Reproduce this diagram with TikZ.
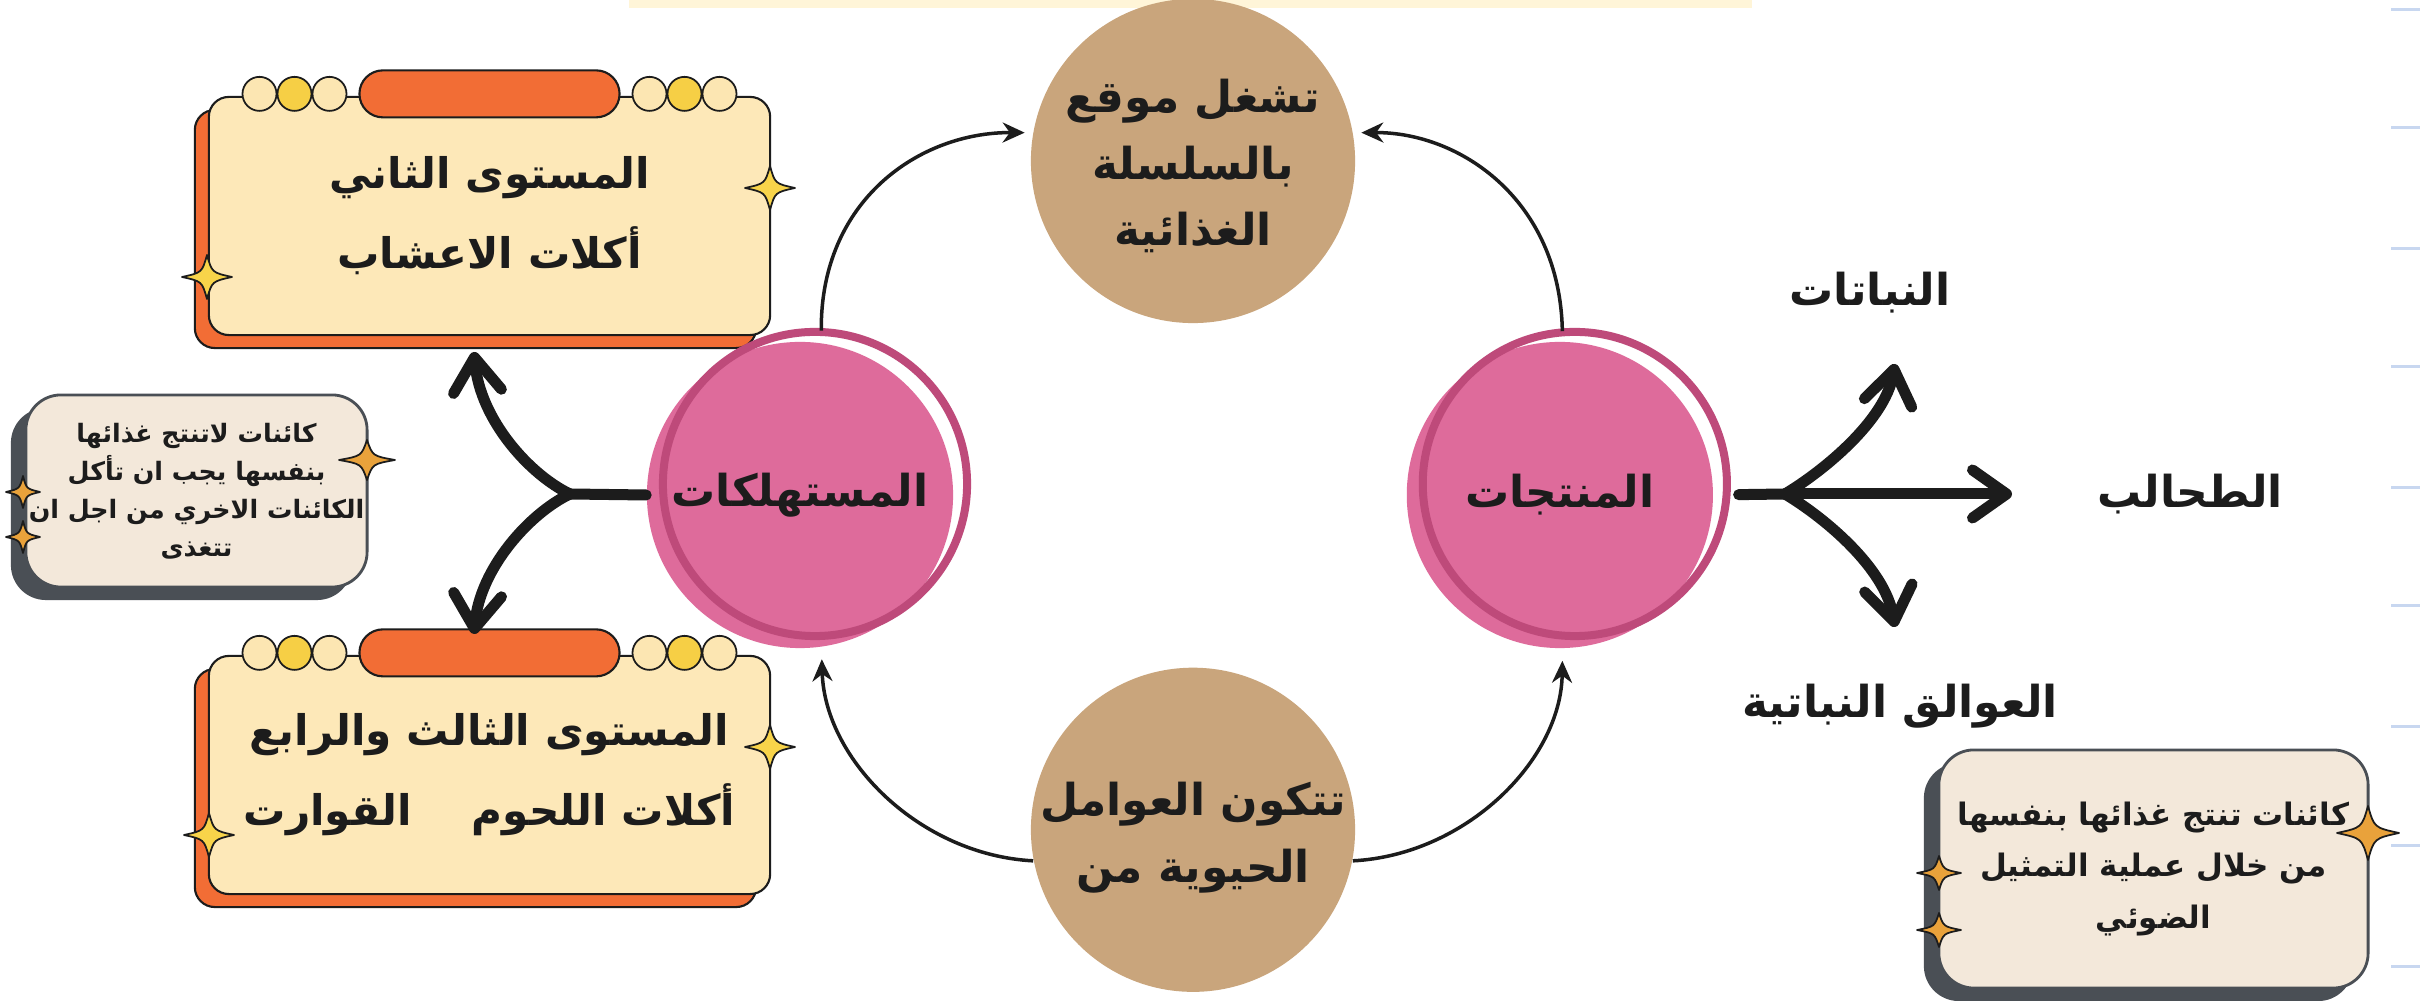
\documentclass[tikz,border=0pt]{standalone}
\usepackage{fontspec}
\usetikzlibrary{arrows.meta,positioning,shadows}
\newfontfamily\arabicfont[Script=Arabic]{DejaVu Sans}
\TeXXeTstate=1

\definecolor{ink}{HTML}{1C1C1C}
\definecolor{cream}{HTML}{FDE8B8}
\definecolor{tabor}{HTML}{F26D35}
\definecolor{sunY}{HTML}{F6CF45}
\definecolor{beadC}{HTML}{FCE6B2}
\definecolor{sparkY}{HTML}{F8D44A}
\definecolor{sparkO}{HTML}{E9A23B}
\definecolor{noteF}{HTML}{F3E8DA}
\definecolor{noteS}{HTML}{4A4F55}
\definecolor{pinkF}{HTML}{DE6B9B}
\definecolor{pinkR}{HTML}{BE4A7A}
\definecolor{tanF}{HTML}{C9A57C}
\definecolor{blueL}{HTML}{C8D7F0}
\definecolor{barY}{HTML}{FFF5D8}

\tikzset{
  x=0.01cm, y=-0.01cm,
  ar/.style={text=ink, align=center},
  levelbox/.style={ar, draw=ink, line width=0.6pt, fill=cream, rounded corners=0.2cm,
    minimum width=5.61cm, minimum height=2.38cm, inner sep=0pt,
    font=\arabicfont\bfseries\fontsize{12}{22.8}\selectfont,
    drop shadow={shadow xshift=-0.14cm, shadow yshift=-0.13cm, fill=tabor, draw=ink, opacity=1}},
  tab/.style={draw=ink, line width=0.6pt, fill=tabor, rounded corners=0.235cm,
    minimum width=2.6cm, minimum height=0.47cm, inner sep=0pt},
  bead/.style={draw=ink, line width=0.5pt},
  notebox/.style={ar, draw=noteS, line width=0.8pt, fill=noteF, rounded corners=0.35cm, inner sep=0pt,
    drop shadow={shadow xshift=-0.15cm, shadow yshift=-0.13cm, fill=noteS, opacity=1}},
  pinkdisk/.style={ar, circle, fill=pinkF, minimum size=3.06cm, inner sep=0pt,
    font=\arabicfont\bfseries\fontsize{12.5}{15}\selectfont},
  ring/.style={draw=pinkR, line width=0.08cm},
  tandisk/.style={circle, fill=tanF, minimum size=3.24cm, inner sep=0pt},
  tantext/.style={ar, inner sep=0pt, font=\arabicfont\bfseries\fontsize{12.5}{19}\selectfont},
  lbl/.style={ar, font=\arabicfont\bfseries\fontsize{12.5}{15}\selectfont},
  link/.style={draw=ink, line width=0.035cm, -{Stealth[length=0.22cm,width=0.2cm]}},
  fork/.style={draw=ink, line width=0.11cm, line cap=round},
  forkarrow/.style={fork, -{Straight Barb[length=0.34cm,width=0.48cm,round]}},
  sparkle/.style={draw=ink, line width=0.5pt, line join=round},
  glint/.pic={\path[pic actions] (1,0) .. controls (0.2,0.2) .. (0,1) .. controls (-0.2,0.2) .. (-1,0)
    .. controls (-0.2,-0.2) .. (0,-1) .. controls (0.2,-0.2) .. (1,0) -- cycle;}
}

\begin{document}
\begin{tikzpicture}
  \useasboundingbox (0,0) rectangle (2420,1001);
  \fill[white] (0,0) rectangle (2420,1001);
  \fill[barY] (629,0) rectangle (1752,8);
  \foreach \y in {10,128,249,367,488,606,727,846,967}
    \draw[blueL, line width=0.03cm] (2391,\y) -- (2420,\y);

  % trophic levels
  \node[levelbox] (lvl2) at (489.5,216) {\beginR المستوى الثاني\endR\\\beginR أكلات الاعشاب\endR};
  \node[levelbox] (lvl34) at (489.5,775) {\beginR المستوى الثالث والرابع\endR\\\beginR أكلات اللحوم\hspace{0.6cm}القوارت\endR};
  \foreach \b in {lvl2,lvl34}{
    \foreach \dx/\c in {-230/beadC,-195/sunY,-160/beadC,160/beadC,195/sunY,230/beadC}
      \draw[bead, fill=\c] ([xshift=\dx*0.01cm,yshift=0.02cm]\b.north) circle (0.17cm);
    \node[tab] (tab-\b) at ([yshift=0.02cm]\b.north) {};
  }
  \pic[sparkle, fill=sparkY, xscale=25, yscale=22] at (770,188) {glint};
  \pic[sparkle, fill=sparkY, xscale=25, yscale=22] at (207,277) {glint};
  \pic[sparkle, fill=sparkY, xscale=25, yscale=22] at (770,747) {glint};
  \pic[sparkle, fill=sparkY, xscale=25, yscale=22] at (209,835) {glint};

  % notes
  \node[notebox, minimum width=3.41cm, minimum height=1.92cm,
    font=\arabicfont\bfseries\fontsize{7.2}{10.8}\selectfont] (noteC) at (196.5,491)
    {\beginR كائنات لاتنتج غذائها\endR\\\beginR بنفسها يجب ان تأكل\endR\\\beginR الكائنات الاخري من اجل ان\endR\\\beginR تتغذى\endR};
  \pic[sparkle, fill=sparkO, xscale=28, yscale=20] at (367,460) {glint};
  \pic[sparkle, fill=sparkO, xscale=17, yscale=16] at (23,492) {glint};
  \pic[sparkle, fill=sparkO, xscale=17, yscale=16] at (23,537) {glint};

  \node[notebox, minimum width=4.29cm, minimum height=2.38cm,
    font=\arabicfont\bfseries\fontsize{8.8}{14.6}\selectfont] (noteP) at (2153.5,869)
    {\beginR كائنات تنتج غذائها بنفسها\endR\\\beginR من خلال عملية التمثيل\endR\\\beginR الضوئي\endR};
  \pic[sparkle, fill=sparkO, xscale=31, yscale=27] at (2368,833) {glint};
  \pic[sparkle, fill=sparkO, xscale=22, yscale=17] at (1939,873) {glint};
  \pic[sparkle, fill=sparkO, xscale=22, yscale=17] at (1939,930) {glint};

  % chain
  \node[pinkdisk] (cons) at (800,495) {\beginR المستهلكات\endR};
  \node[pinkdisk, right=4.52cm of cons] (prod) {\beginR المنتجات\endR};
  \draw[ring] ([shift={(15,-11)}]cons.center) circle (1.52cm);
  \draw[ring] ([shift={(15,-11)}]prod.center) circle (1.52cm);

  \node[tandisk] (chain) at (1193,161) {};
  \node[tandisk, below=3.43cm of chain] (biotic) {};
  \node[tantext] (chainTxt) at ([yshift=-0.05cm]chain.center) {\beginR تشغل موقع\endR\\\beginR بالسلسلة\endR\\\beginR الغذائية\endR};
  \node[tantext] (bioticTxt) at ([yshift=-0.08cm]biotic.center) {\beginR تتكون العوامل\endR\\\beginR الحيوية من\endR};

  \draw[link, shorten <=0.12cm, shorten >=0.08cm] (cons.82) .. controls (820,200) and (920,132) .. (chain.170);
  \draw[link, shorten <=0.1cm, shorten >=0.08cm] (prod.89) .. controls (1560,200) and (1460,132) .. (chain.10);
  \draw[link, shorten >=0.12cm] (biotic.191) .. controls (920,855) and (825,760) .. (cons.-82);
  \draw[link, shorten >=0.12cm] (biotic.-11) .. controls (1466,855) and (1561,760) .. (prod.-89);

  % forks
  \coordinate (jL) at (570,494);
  \coordinate (tipL2) at (474,352);
  \coordinate (tipL34) at (474,634);
  \draw[fork] (cons.west) -- (jL);
  \draw[forkarrow] (jL) .. controls (530,475) and (480,420) .. (tipL2);
  \draw[forkarrow] (jL) .. controls (530,513) and (480,568) .. (tipL34);

  \coordinate (jR) at (1785,494);
  \coordinate (tipP) at (1895,364);
  \coordinate (tipA) at (2012,494);
  \coordinate (tipZ) at (1895,627);
  \draw[fork, shorten <=0.25cm] (prod.east) -- (jR);
  \draw[forkarrow] (jR) .. controls (1825,470) and (1885,420) .. (tipP);
  \draw[forkarrow] (jR) -- (tipA);
  \draw[forkarrow] (jR) .. controls (1825,518) and (1885,568) .. (tipZ);

  \node[lbl] (plants) at (1870,293) {\beginR النباتات\endR};
  \node[lbl] (algae) at (2190,494) {\beginR الطحالب\endR};
  \node[lbl] (plankton) at (1900,706) {\beginR العوالق النباتية\endR};
\end{tikzpicture}
\end{document}
